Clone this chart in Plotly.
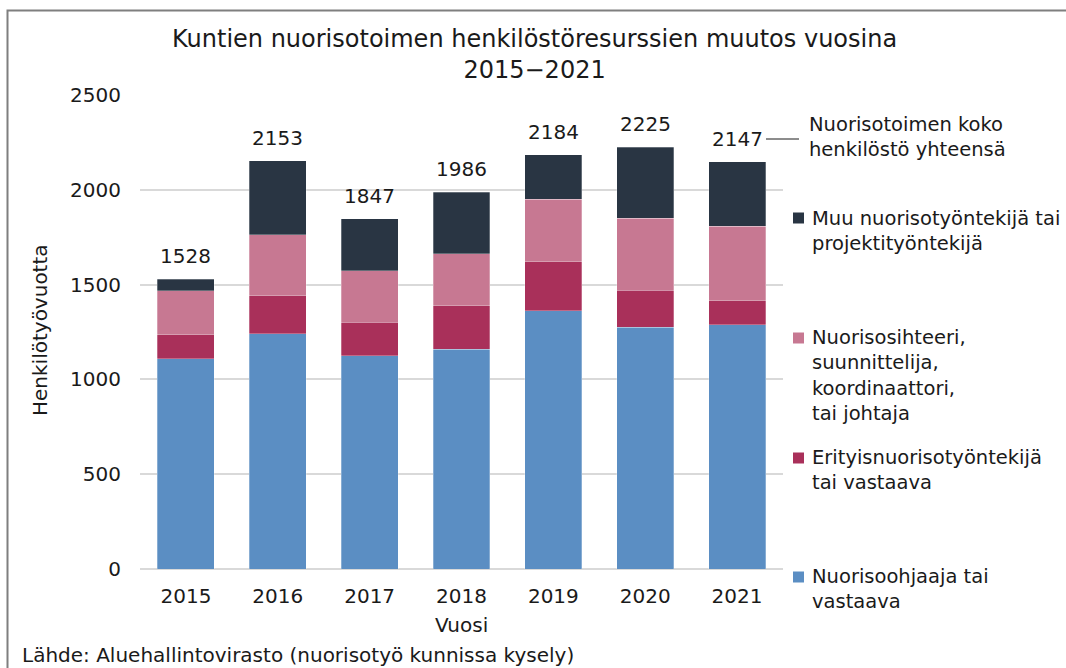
import plotly.graph_objects as go

years = ["2015", "2016", "2017", "2018", "2019", "2020", "2021"]
nuorisoohjaaja = [1108, 1241, 1125, 1160, 1362, 1275, 1287]
erityis = [128, 199, 176, 229, 259, 195, 128]
sihteeri = [232, 322, 272, 274, 329, 380, 392]
totals = [1528, 2153, 1847, 1986, 2184, 2225, 2147]
muu = [t - a - b - c for t, a, b, c in zip(totals, nuorisoohjaaja, erityis, sihteeri)]

series_names = [
    "Nuorisoohjaaja tai<br>vastaava",
    "Erityisnuorisotyöntekijä<br>tai vastaava",
    "Nuorisosihteeri,<br>suunnittelija,<br>koordinaattori,<br>tai johtaja",
    "Muu nuorisotyöntekijä tai<br>projektityöntekijä",
]
total_name = "Nuorisotoimen koko<br>henkilöstö yhteensä"
colors = ["#5B8EC3", "#A9305A", "#C77892", "#293543"]

W, H = 1066, 668
L, R, T, B = 140, 283, 95, 99
PW, PH = W - L - R, H - T - B
FONT = "DejaVu Sans"
FS = 20
FL = 19.5
TXT = "#1a1a1a"


def px(x):
    return (x - L) / PW


def py(y):
    return (H - B - y) / PH


fig = go.Figure()
for name, vals, col in zip(series_names, [nuorisoohjaaja, erityis, sihteeri, muu], colors):
    fig.add_trace(go.Bar(
        x=years, y=vals, name=name, marker=dict(color=col, line=dict(width=0.8, color="rgba(255,255,255,0.35)")),
        showlegend=False,
    ))

annotations = []
for i, t in enumerate(totals):
    annotations.append(dict(x=i, y=t, xref="x", yref="y", text=str(t), showarrow=False,
                            yanchor="middle", yshift=23, font=dict(size=FS, color=TXT, family=FONT)))

# title
annotations.append(dict(x=px(534), y=py(54), xref="paper", yref="paper", xanchor="center", yanchor="middle",
                        text="Kuntien nuorisotoimen henkilöstöresurssien muutos vuosina<br>2015−2021",
                        showarrow=False, font=dict(size=24, color=TXT, family=FONT)))
# y title
annotations.append(dict(x=px(40), y=py(330), xref="paper", yref="paper", xanchor="center", yanchor="middle",
                        text="Henkilötyövuotta", textangle=-90, showarrow=False,
                        font=dict(size=FS, color=TXT, family=FONT)))
# x title
annotations.append(dict(x=px(461), y=py(625), xref="paper", yref="paper", xanchor="center", yanchor="middle",
                        text="Vuosi", showarrow=False, font=dict(size=FS, color=TXT, family=FONT)))
# source
annotations.append(dict(x=px(20), y=py(655), xref="paper", yref="paper", xanchor="left", yanchor="middle",
                        text="Lähde: Aluehallintovirasto (nuorisotyö kunnissa kysely)", showarrow=False,
                        font=dict(size=FS, color=TXT, family=FONT)))

# legend (custom layout)
legend_items = [
    (total_name, None, 137.5, 125),
    (series_names[3], colors[3], 231, 218),
    (series_names[2], colors[2], 375.5, 338),
    (series_names[1], colors[1], 470, 458),
    (series_names[0], colors[0], 588.5, 577),
]
shapes = []
for text, col, cy, sy in legend_items:
    tx = 807 if col is None else 810
    annotations.append(dict(x=px(tx), y=py(cy), xref="paper", yref="paper", xanchor="left", yanchor="middle",
                            align="left", text=text, showarrow=False,
                            font=dict(size=FL, color=TXT, family=FONT)))
    if col is None:
        shapes.append(dict(type="line", xref="paper", yref="paper", x0=px(766), x1=px(799),
                           y0=py(139), y1=py(139), line=dict(color=TXT, width=1)))
    else:
        shapes.append(dict(type="rect", xref="paper", yref="paper", x0=px(793), x1=px(804),
                           y0=py(sy - 5.5), y1=py(sy + 5.5), line=dict(width=0), fillcolor=col))

# frame
shapes.append(dict(type="rect", xref="paper", yref="paper", x0=px(7.5), x1=px(1075), y0=py(680), y1=py(10.5),
                   line=dict(color="#7f7f7f", width=2), fillcolor="rgba(0,0,0,0)", layer="below"))

fig.update_layout(
    width=W, height=H, barmode="stack", bargap=0.38,
    margin=dict(l=L, r=R, t=T, b=B, autoexpand=False),
    paper_bgcolor="white", plot_bgcolor="white",
    font=dict(family=FONT, size=FS, color=TXT),
    annotations=annotations, shapes=shapes,
    xaxis=dict(type="category", range=[-0.5, len(years) - 0.5], showgrid=False, showline=False,
               zeroline=False, ticks="", ticklabelstandoff=13, tickfont=dict(size=FS)),
    yaxis=dict(range=[0, 2500], dtick=500, showgrid=True, gridcolor="#d9d9d9", gridwidth=1.5,
               zeroline=True, zerolinecolor="#d9d9d9", zerolinewidth=1.5, showline=False, ticks="",
               ticklabelstandoff=18, tickfont=dict(size=FS)),
)

fig.write_html("out.html", post_script="document.body.style.margin='0';",
               config={"displayModeBar": False})
